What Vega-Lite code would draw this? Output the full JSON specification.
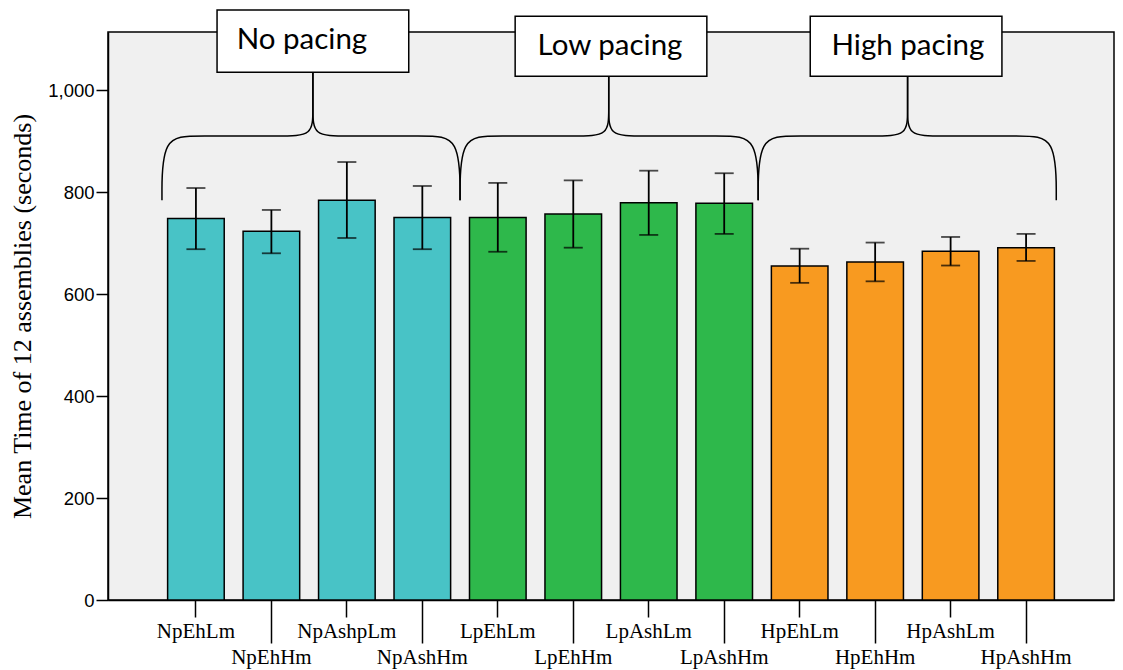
{
  "$schema": "https://vega.github.io/schema/vega-lite/v6.json",
  "autosize": {"type": "none"},
  "padding": {"left": 108, "top": 32, "right": 9, "bottom": 70},
  "width": 1006,
  "height": 568,
  "background": "white",
  "config": {
    "view": {"fill": "#f0f0f0", "stroke": "#000000", "strokeWidth": 1.5},
    "axis": {"grid": false, "domainColor": "#000000", "domainWidth": 1.5, "tickColor": "#000000", "tickWidth": 1.5, "labelColor": "#000000", "titleColor": "#000000"}
  },
  "datasets": {
    "bars": [
      {"cond": "NpEhLm", "group": "No pacing", "mean": 748, "lo": 688, "hi": 808},
      {"cond": "NpEhHm", "group": "No pacing", "mean": 723, "lo": 680, "hi": 765},
      {"cond": "NpAshpLm", "group": "No pacing", "mean": 784, "lo": 710, "hi": 859},
      {"cond": "NpAshHm", "group": "No pacing", "mean": 750, "lo": 688, "hi": 812},
      {"cond": "LpEhLm", "group": "Low pacing", "mean": 750, "lo": 683, "hi": 818},
      {"cond": "LpEhHm", "group": "Low pacing", "mean": 757, "lo": 691, "hi": 823},
      {"cond": "LpAshLm", "group": "Low pacing", "mean": 779, "lo": 716, "hi": 842},
      {"cond": "LpAshHm", "group": "Low pacing", "mean": 778, "lo": 718, "hi": 837},
      {"cond": "HpEhLm", "group": "High pacing", "mean": 655, "lo": 622, "hi": 689},
      {"cond": "HpEhHm", "group": "High pacing", "mean": 663, "lo": 625, "hi": 701},
      {"cond": "HpAshLm", "group": "High pacing", "mean": 684, "lo": 656, "hi": 712},
      {"cond": "HpAshHm", "group": "High pacing", "mean": 691, "lo": 665, "hi": 718}
    ],
    "braces": [
      {"seg": "NP-L", "ord": 1, "bx": 0.05, "by": 784},
      {"seg": "NP-L", "ord": 2, "bx": 0.05, "by": 910},
      {"seg": "NP-L", "ord": 3, "bx": 0.5, "by": 910},
      {"seg": "NP-L", "ord": 4, "bx": 1.65, "by": 910},
      {"seg": "NP-L", "ord": 5, "bx": 2.05, "by": 910},
      {"seg": "NP-L", "ord": 6, "bx": 2.05, "by": 960},
      {"seg": "NP-L", "ord": 7, "bx": 2.05, "by": 1035},
      {"seg": "NP-R", "ord": 1, "bx": 4.0, "by": 784},
      {"seg": "NP-R", "ord": 2, "bx": 4.0, "by": 910},
      {"seg": "NP-R", "ord": 3, "bx": 3.55, "by": 910},
      {"seg": "NP-R", "ord": 4, "bx": 2.45, "by": 910},
      {"seg": "NP-R", "ord": 5, "bx": 2.05, "by": 910},
      {"seg": "NP-R", "ord": 6, "bx": 2.05, "by": 960},
      {"seg": "NP-R", "ord": 7, "bx": 2.05, "by": 1035},
      {"seg": "LP-L", "ord": 1, "bx": 4.0, "by": 784},
      {"seg": "LP-L", "ord": 2, "bx": 4.0, "by": 910},
      {"seg": "LP-L", "ord": 3, "bx": 4.45, "by": 910},
      {"seg": "LP-L", "ord": 4, "bx": 5.57, "by": 910},
      {"seg": "LP-L", "ord": 5, "bx": 5.97, "by": 910},
      {"seg": "LP-L", "ord": 6, "bx": 5.97, "by": 960},
      {"seg": "LP-L", "ord": 7, "bx": 5.97, "by": 1027},
      {"seg": "LP-R", "ord": 1, "bx": 7.95, "by": 784},
      {"seg": "LP-R", "ord": 2, "bx": 7.95, "by": 910},
      {"seg": "LP-R", "ord": 3, "bx": 7.5, "by": 910},
      {"seg": "LP-R", "ord": 4, "bx": 6.37, "by": 910},
      {"seg": "LP-R", "ord": 5, "bx": 5.97, "by": 910},
      {"seg": "LP-R", "ord": 6, "bx": 5.97, "by": 960},
      {"seg": "LP-R", "ord": 7, "bx": 5.97, "by": 1027},
      {"seg": "HP-L", "ord": 1, "bx": 7.95, "by": 784},
      {"seg": "HP-L", "ord": 2, "bx": 7.95, "by": 910},
      {"seg": "HP-L", "ord": 3, "bx": 8.4, "by": 910},
      {"seg": "HP-L", "ord": 4, "bx": 9.53, "by": 910},
      {"seg": "HP-L", "ord": 5, "bx": 9.93, "by": 910},
      {"seg": "HP-L", "ord": 6, "bx": 9.93, "by": 960},
      {"seg": "HP-L", "ord": 7, "bx": 9.93, "by": 1027},
      {"seg": "HP-R", "ord": 1, "bx": 11.9, "by": 784},
      {"seg": "HP-R", "ord": 2, "bx": 11.9, "by": 910},
      {"seg": "HP-R", "ord": 3, "bx": 11.45, "by": 910},
      {"seg": "HP-R", "ord": 4, "bx": 10.33, "by": 910},
      {"seg": "HP-R", "ord": 5, "bx": 9.93, "by": 910},
      {"seg": "HP-R", "ord": 6, "bx": 9.93, "by": 960},
      {"seg": "HP-R", "ord": 7, "bx": 9.93, "by": 1027}
    ],
    "boxes": [
      {"label": "No pacing", "x1": 0.78, "x2": 3.32, "y1": 1035, "y2": 1157, "tx": 1.905, "ty": 1098},
      {"label": "Low pacing", "x1": 4.73, "x2": 7.27, "y1": 1027, "y2": 1145, "tx": 5.987, "ty": 1086},
      {"label": "High pacing", "x1": 8.64, "x2": 11.18, "y1": 1027, "y2": 1145, "tx": 9.935, "ty": 1086}
    ]
  },
  "layer": [
    {
      "data": {"name": "bars"},
      "encoding": {
        "x": {
          "field": "cond", "type": "nominal", "sort": null,
          "scale": {"paddingInner": 0.25, "paddingOuter": 0.79},
          "axis": {
            "title": null, "labelAngle": 0,
            "labelFont": "Liberation Serif", "labelFontSize": 21,
            "labelPadding": 3,
            "tickSize": {"condition": {"test": "indexof(['NpEhHm','NpAshHm','LpEhHm','LpAshHm','HpEhHm','HpAshHm'], datum.value) >= 0", "value": 43}, "value": 17}
          }
        }
      },
      "layer": [
        {
          "mark": {"type": "bar", "stroke": "#000000", "strokeWidth": 1.5},
          "encoding": {
            "y": {
              "field": "mean", "type": "quantitative",
              "scale": {"domain": [0, 1114], "nice": false, "zero": true},
              "axis": {
                "title": "Mean Time of 12 assemblies (seconds)",
                "titleFont": "Liberation Serif", "titleFontSize": 26, "titleFontWeight": "normal",
                "titlePadding": 12,
                "values": [0, 200, 400, 600, 800, 1000], "format": ",.0f",
                "labelFont": "Liberation Sans", "labelFontSize": 18.5, "labelPadding": 2, "tickSize": 12
              }
            },
            "color": {
              "field": "group", "type": "nominal",
              "scale": {"domain": ["No pacing", "Low pacing", "High pacing"], "range": ["#48C3C6", "#2EB84B", "#F89A20"]},
              "legend": null
            }
          }
        },
        {
          "mark": {"type": "rule", "color": "#000000", "strokeWidth": 1.8},
          "encoding": {
            "y": {"field": "lo", "type": "quantitative"},
            "y2": {"field": "hi"}
          }
        },
        {
          "mark": {"type": "tick", "color": "#000000", "size": 19, "thickness": 1.8, "orient": "horizontal"},
          "encoding": {
            "y": {"field": "lo", "type": "quantitative"}
          }
        },
        {
          "mark": {"type": "tick", "color": "#000000", "size": 19, "thickness": 1.8, "orient": "horizontal"},
          "encoding": {
            "y": {"field": "hi", "type": "quantitative"}
          }
        }
      ]
    },
    {
      "layer": [
        {
          "data": {"name": "braces"},
          "mark": {"type": "line", "color": "#000000", "strokeWidth": 1.5, "interpolate": "basis"},
          "encoding": {
            "x": {"field": "bx", "type": "quantitative", "scale": {"domain": [-0.665, 12.665], "nice": false, "zero": false}, "axis": null},
            "y": {"field": "by", "type": "quantitative"},
            "detail": {"field": "seg"},
            "order": {"field": "ord"}
          }
        },
        {
          "data": {"name": "boxes"},
          "mark": {"type": "rect", "fill": "#ffffff", "stroke": "#000000", "strokeWidth": 1.5},
          "encoding": {
            "x": {"field": "x1", "type": "quantitative", "axis": null},
            "x2": {"field": "x2"},
            "y": {"field": "y1", "type": "quantitative"},
            "y2": {"field": "y2"}
          }
        },
        {
          "data": {"name": "boxes"},
          "mark": {"type": "text", "font": "Lato", "fontSize": 29.5, "color": "#000000", "baseline": "middle", "align": "center"},
          "encoding": {
            "x": {"field": "tx", "type": "quantitative", "axis": null},
            "y": {"field": "ty", "type": "quantitative"},
            "text": {"field": "label"}
          }
        }
      ]
    }
  ],
  "resolve": {"scale": {"x": "independent"}}
}
